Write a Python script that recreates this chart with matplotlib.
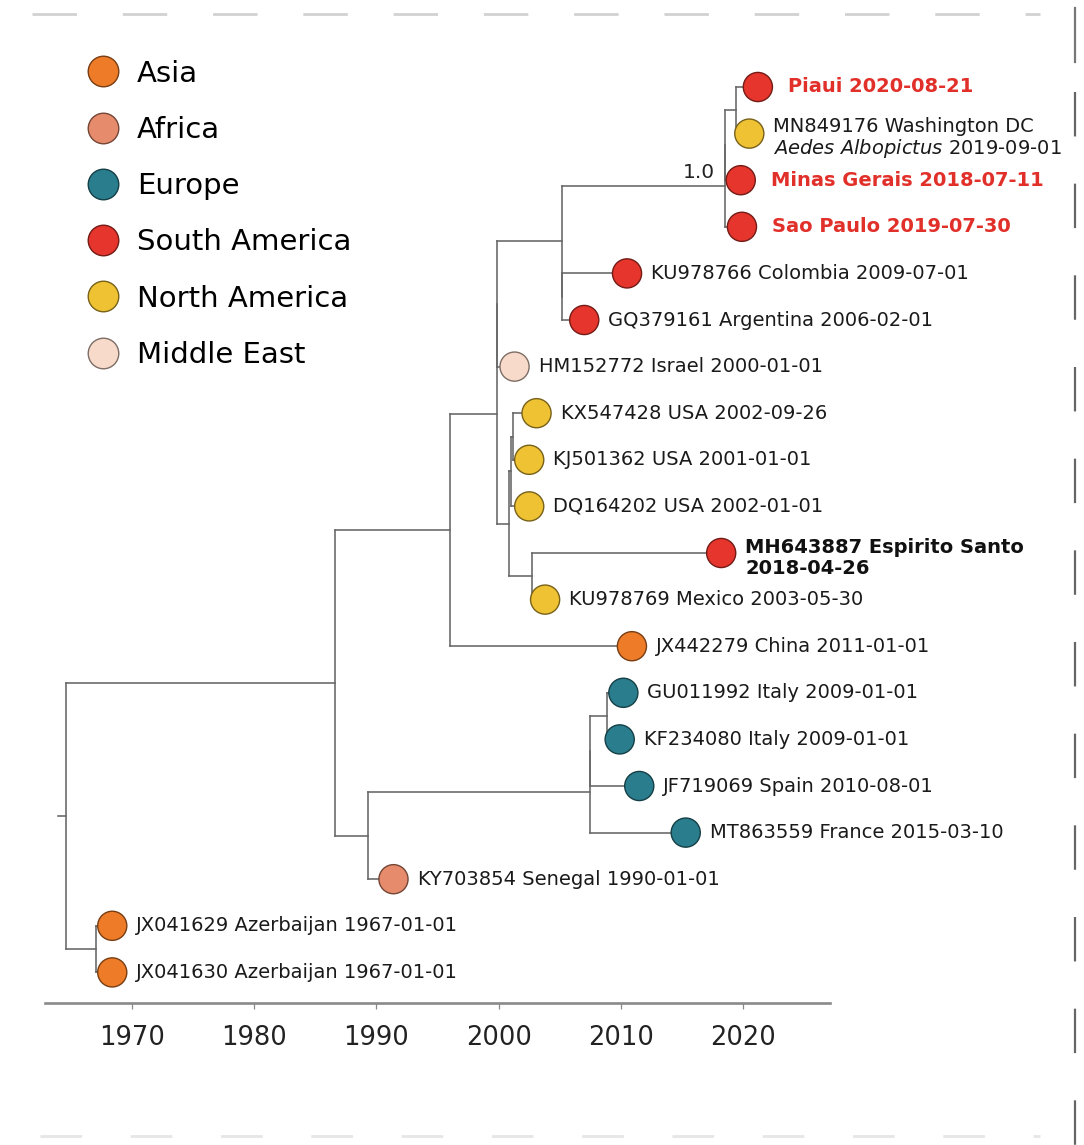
import matplotlib
matplotlib.use('Agg')
import matplotlib.pyplot as plt
from matplotlib.lines import Line2D
from matplotlib.collections import LineCollection
import matplotlib.colors as mcolors
import numpy as np

plt.rcParams['font.family'] = ['DejaVu Sans']
plt.rcParams['mathtext.fontset'] = 'dejavusans'
plt.rcParams['lines.scale_dashes'] = False

# ---------------- data ----------------
regions = ['Asia', 'Africa', 'Europe', 'South America', 'North America', 'Middle East']
region_colors = ['#EE7B28', '#E68B6C', '#2A7D8C', '#E5352C', '#EEC233', '#F8DACA']

tip_names = ['Piaui', 'MN849176', 'MinasGerais', 'SaoPaulo', 'KU978766', 'GQ379161',
             'HM152772', 'KX547428', 'KJ501362', 'DQ164202', 'MH643887', 'KU978769',
             'JX442279', 'GU011992', 'KF234080', 'JF719069', 'MT863559', 'KY703854',
             'JX041629', 'JX041630']
tip_labels = ['Piaui 2020-08-21',
              'MN849176 Washington DC\n$\\it{Aedes\\ Albopictus}$ 2019-09-01',
              'Minas Gerais 2018-07-11',
              'Sao Paulo 2019-07-30',
              'KU978766 Colombia 2009-07-01',
              'GQ379161 Argentina 2006-02-01',
              'HM152772 Israel 2000-01-01',
              'KX547428 USA 2002-09-26',
              'KJ501362 USA 2001-01-01',
              'DQ164202 USA 2002-01-01',
              'MH643887 Espirito Santo\n2018-04-26',
              'KU978769 Mexico 2003-05-30',
              'JX442279 China 2011-01-01',
              'GU011992 Italy 2009-01-01',
              'KF234080 Italy 2009-01-01',
              'JF719069 Spain 2010-08-01',
              'MT863559 France 2015-03-10',
              'KY703854 Senegal 1990-01-01',
              'JX041629 Azerbaijan 1967-01-01',
              'JX041630 Azerbaijan 1967-01-01']
tip_years = [2021.2, 2020.5, 2019.8, 2019.9, 2010.5, 2007.0, 2001.3, 2003.1, 2002.5, 2002.5,
             2018.2, 2003.8, 2010.9, 2010.2, 2009.9, 2011.5, 2015.3, 1991.4, 1968.4, 1968.4]
tip_regions = ['South America', 'North America', 'South America', 'South America',
               'South America', 'South America', 'Middle East', 'North America',
               'North America', 'North America', 'South America', 'North America',
               'Asia', 'Europe', 'Europe', 'Europe', 'Europe', 'Africa', 'Asia', 'Asia']

node_names = ['root', 'nA', 'nB', 'nD1', 'nD2', 'nSA', 'nSA2', 'nSA2a', 'nPW', 'nSA3',
              'nUS', 'nU1', 'nU2', 'nEM', 'nC', 'nEu', 'nEu2', 'nIt', 'nAz']
node_years = [1964.6, 1986.6, 1996.0, 1999.9, 1999.9, 2005.2, 2018.5, 2018.5, 2019.4, 2005.2,
              2000.85, 2001.0, 2001.2, 2002.7, 1989.3, 2007.5, 2007.5, 2008.9, 1967.1]
node_children = [['nA', 'nAz'], ['nB', 'nC'], ['nD1', 'JX442279'], ['nD2', 'nUS'],
                 ['nSA', 'HM152772'], ['nSA2', 'nSA3'], ['nSA2a', 'SaoPaulo'],
                 ['nPW', 'MinasGerais'], ['Piaui', 'MN849176'], ['KU978766', 'GQ379161'],
                 ['nU1', 'nEM'], ['nU2', 'DQ164202'], ['KX547428', 'KJ501362'],
                 ['MH643887', 'KU978769'], ['nEu', 'KY703854'], ['nEu2', 'MT863559'],
                 ['nIt', 'JF719069'], ['GU011992', 'KF234080'], ['JX041629', 'JX041630']]
node_support = {'nSA2': '1.0'}
highlight_red = ['Piaui', 'MinasGerais', 'SaoPaulo']
highlight_bold = ['MH643887']
year_ticks = [1970, 1980, 1990, 2000, 2010, 2020]

# ---------------- layout of the tree ----------------
xpos = dict(zip(tip_names, tip_years))
xpos.update(dict(zip(node_names, node_years)))
children = dict(zip(node_names, node_children))
ypos = {}
counter = [0]


def layout(n):
    if n in children:
        ys = [layout(c) for c in children[n]]
        ypos[n] = float(np.mean(ys))
    else:
        ypos[n] = float(counter[0])
        counter[0] += 1
    return ypos[n]


layout('root')

# ---------------- figure ----------------
W, H = 1084, 1145
fig = plt.figure(figsize=(W / 100, H / 100), dpi=100)

# background artefacts of the scanned page
bg = fig.add_axes([0, 0, 1, 1], zorder=-5)
bg.set_xlim(0, W)
bg.set_ylim(H, 0)
bg.axis('off')
bg.plot([32, 1040], [14, 14], color='#d2d2d2', lw=2.0, dashes=(32, 33))
bg.plot([1075, 1075], [8, 62], color='#777777', lw=1.6)
bg.plot([1075, 1075], [92, 1145], color='#666666', lw=1.6, dashes=(32, 34))
bg.plot([40, 1040], [1136, 1136], color='#e6e6e6', lw=2.0, dashes=(30, 35))

ax = fig.add_axes([45 / W, 1 - 1003 / H, (830 - 45) / W, (1003 - 40) / H])
ax.set_xlim(1962.9, 2027.1)
row0, pitch = 87, 46.6
ax.set_ylim((1003 - row0) / pitch, (40 - row0) / pitch)

segs = []
for n in node_names:
    ys = [ypos[c] for c in children[n]]
    segs.append([(xpos[n], min(ys)), (xpos[n], max(ys))])
    for c in children[n]:
        segs.append([(xpos[n], ypos[c]), (xpos[c], ypos[c])])
# root stub
segs.append([(xpos['root'] - 0.6, ypos['root']), (xpos['root'], ypos['root'])])
ax.add_collection(LineCollection(segs, colors='#666666', linewidths=1.15,
                                 capstyle='projecting', zorder=1))

cmap = dict(zip(regions, region_colors))


def dark(c, f=0.5):
    r = np.array(mcolors.to_rgb(c)) * f
    return tuple(r)


fc = [cmap[r] for r in tip_regions]
ec = [dark(cmap[r]) for r in tip_regions]
ax.scatter(tip_years, [ypos[t] for t in tip_names], s=440, c=fc, edgecolors=ec,
           linewidths=1.0, zorder=3)

for name, lab in zip(tip_names, tip_labels):
    kw = dict(fontsize=14, color='#1a1a1a')
    dx, dy = 17.3, 0
    if name in highlight_red:
        kw.update(fontweight='bold', color='#E1302A')
        dx = 21.6
    elif name in highlight_bold:
        kw.update(fontweight='bold', color='#111111')
    if '\n' in lab:
        dy = -3.5
    ax.annotate(lab, (xpos[name], ypos[name]), xytext=(dx, dy), textcoords='offset points',
                ha='left', va='center', linespacing=1.1, zorder=4, **kw)

for n, s in node_support.items():
    ax.annotate(s, (xpos[n], ypos[n]), xytext=(-7, 3), textcoords='offset points',
                ha='right', va='bottom', fontsize=14.5, color='#222222')

for sp in ['top', 'right', 'left']:
    ax.spines[sp].set_visible(False)
ax.spines['bottom'].set_color('#8a8a8a')
ax.spines['bottom'].set_linewidth(1.9)
ax.set_yticks([])
ax.set_xticks(year_ticks)
ax.set_xticklabels([str(t) for t in year_ticks])
ax.tick_params(axis='x', direction='out', length=4, width=0.9, color='#888888',
               labelsize=18.5, pad=12, labelcolor='#222222')

handles = [Line2D([], [], marker='o', ls='', markersize=22, markerfacecolor=c,
                  markeredgecolor=dark(c), markeredgewidth=1.0) for c in region_colors]
fig.legend(handles, regions, loc='upper left', bbox_to_anchor=(88.4 / W, 1 - 59.5 / H),
           frameon=False, fontsize=21, labelspacing=0.97, handlelength=1.0,
           handletextpad=0.66, borderpad=0, borderaxespad=0)

fig.savefig('out.png', dpi=100)
